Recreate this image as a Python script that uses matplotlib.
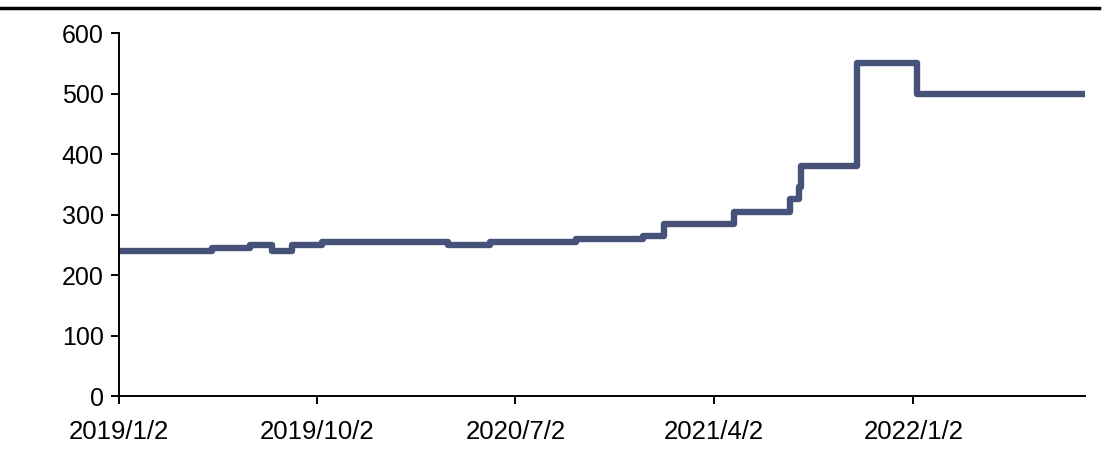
import numpy as np
import pandas as pd
import matplotlib
matplotlib.use("Agg")
import matplotlib.pyplot as plt
from matplotlib.lines import Line2D

plt.rcParams['font.family'] = ['Liberation Sans', 'DejaVu Sans']

# price level changes (date the new level starts, level)
change_dates = ['2019-01-02', '2019-05-10', '2019-07-02', '2019-08-01', '2019-08-29',
                '2019-10-09', '2020-03-31', '2020-05-28', '2020-09-24', '2020-12-25',
                '2021-01-23', '2021-04-30', '2021-07-16', '2021-07-28', '2021-07-31',
                '2021-10-16', '2022-01-07', '2022-08-27']
levels = [240, 245, 250, 240, 250,
          255, 250, 255, 260, 265,
          285, 305, 325, 345, 380,
          550, 500, 500]

tick_dates = ['2019-01-02', '2019-10-02', '2020-07-02', '2021-04-02', '2022-01-02']
tick_labels = ['2019/1/2', '2019/10/2', '2020/7/2', '2021/4/2', '2022/1/2']

x = pd.to_datetime(change_dates)
xt = pd.to_datetime(tick_dates)

fig = plt.figure(figsize=(11.05, 4.53), dpi=100)
ax = fig.add_axes([0.1077, 0.1258, 0.9820 - 0.1077, 0.927 - 0.1258])

ax.plot(x, levels, drawstyle='steps-post', color='#46527a', lw=4.6,
        solid_joinstyle='round', solid_capstyle='round')

ax.set_ylim(0, 600)
ax.set_yticks(np.arange(0, 601, 100))
ax.set_xlim(x[0], x[-1])
ax.set_xticks(xt)
ax.set_xticklabels(tick_labels)

for s in ['top', 'right']:
    ax.spines[s].set_visible(False)
for s in ['left', 'bottom']:
    ax.spines[s].set_linewidth(1.4)
ax.tick_params(axis='both', direction='out', length=6, width=1.4, colors='black')
ax.tick_params(axis='x', pad=11, labelsize=18.5)
ax.tick_params(axis='y', pad=5, labelsize=18)
ax.spines['left'].set_zorder(3)

# heading rule at the top
fig.add_artist(Line2D([0.0, 0.995], [0.982, 0.982], transform=fig.transFigure,
                      color='black', lw=2.5))

fig.savefig('out.png', dpi=100)
